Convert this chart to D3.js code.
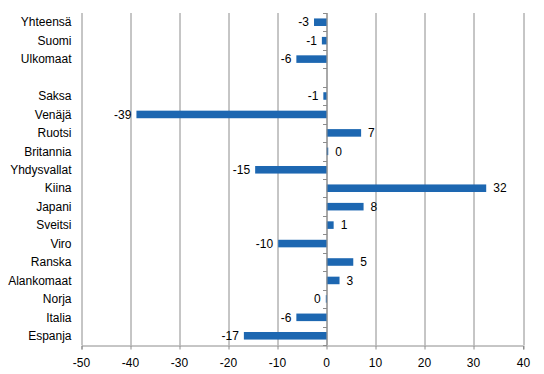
<!DOCTYPE html>
<html>
<head>
<meta charset="utf-8">
<title>Muutos</title>
<style>
    body { margin: 0; background: #fff; }
    svg text { font-family: "Liberation Sans", Arial, sans-serif; font-size: 12px; fill: #000; }
</style>
</head>
<body>
<svg id="chart"></svg>
<script src="https://d3js.org/d3.v7.min.js"></script>
<script>

    // categories, top to bottom ("" is the gap row)
    const categories = ["Yhteensä", "Suomi", "Ulkomaat", "", "Saksa", "Venäjä", "Ruotsi", "Britannia",
        "Yhdysvallat", "Kiina", "Japani", "Sveitsi", "Viro", "Ranska", "Alankomaat", "Norja", "Italia", "Espanja"];
    // bar lengths
    const values = [-2.6, -1.0, -6.2, null, -0.7, -38.8, 7.0, 0.3,
        -14.6, 32.5, 7.5, 1.4, -9.9, 5.4, 2.6, -0.2, -6.2, -16.9];
    // printed labels
    const labels = ["-3", "-1", "-6", "", "-1", "-39", "7", "0",
        "-15", "32", "8", "1", "-10", "5", "3", "0", "-6", "-17"];
    const xTicks = [-50, -40, -30, -20, -10, 0, 10, 20, 30, 40];

    const svgWidth = 544, svgHeight = 374;
    const margin = {top: 13, right: 21, bottom: 29, left: 81.5};
    const width = svgWidth - margin.left - margin.right;
    const height = svgHeight - margin.top - margin.bottom;

    const svg = d3.select("#chart")
        .attr("width", svgWidth)
        .attr("height", svgHeight);

    const g = svg.append("g")
        .attr("transform", "translate(" + margin.left + "," + margin.top + ")");

    const rows = categories.map(function(c, i) {
        return {key: i, name: c, value: values[i], label: labels[i]};
    });

    const x = d3.scaleLinear().domain([-50, 40]).range([0, width]);
    const y = d3.scaleBand().domain(rows.map(function(d) { return d.key; }))
        .range([0, height]).paddingInner(0.59).paddingOuter(0.295);

    // vertical grid lines
    g.append("g")
        .selectAll("line")
        .data(xTicks)
        .enter().append("line")
        .attr("x1", function(d) { return Math.round(x(d)) + 0.5; })
        .attr("x2", function(d) { return Math.round(x(d)) + 0.5; })
        .attr("y1", 0)
        .attr("y2", height)
        .attr("stroke", "#8c8c8c")
        .attr("stroke-width", 1);

    // bottom axis
    const xAxis = g.append("g")
        .attr("transform", "translate(0," + (height + 0.5) + ")")
        .call(d3.axisBottom(x).tickValues(xTicks).tickSize(4).tickPadding(9)
            .tickFormat(function(d) { return String(d); }));
    xAxis.select(".domain").attr("stroke", "#8c8c8c");
    xAxis.selectAll(".tick line").attr("stroke", "#8c8c8c")
        .attr("transform", "translate(0.5,0)");
    xAxis.selectAll("text")
        .style("font-family", "'Liberation Sans', Arial, sans-serif")
        .style("font-size", "12px")
        .attr("fill", "#000");
    xAxis.selectAll(".tick").attr("transform", function(d) {
        return "translate(" + Math.round(x(d)) + ",0)";
    });

    // category labels
    g.append("g")
        .selectAll("text")
        .data(rows)
        .enter().append("text")
        .attr("x", -10)
        .attr("y", function(d) { return y(d.key) + y.bandwidth() / 2; })
        .attr("dy", "0.35em")
        .attr("text-anchor", "end")
        .text(function(d) { return d.name; });

    // bars
    const bars = rows.filter(function(d) { return d.value !== null; });
    g.append("g")
        .selectAll("rect")
        .data(bars)
        .enter().append("rect")
        .attr("x", function(d) { return x(Math.min(0, d.value)); })
        .attr("y", function(d) { return y(d.key); })
        .attr("width", function(d) { return Math.max(1, Math.abs(x(d.value) - x(0))); })
        .attr("height", y.bandwidth())
        .attr("fill", "#1d67b1");

    // zero axis with small ticks on the left
    const x0 = Math.round(x(0)) + 0.5;
    g.append("line")
        .attr("x1", x0).attr("x2", x0)
        .attr("y1", 0).attr("y2", height)
        .attr("stroke", "#8c8c8c");
    g.append("g")
        .selectAll("line")
        .data(d3.range(categories.length + 1))
        .enter().append("line")
        .attr("x1", x0 - 4).attr("x2", x0)
        .attr("y1", function(i) { return Math.round(i * height / categories.length) + 0.5; })
        .attr("y2", function(i) { return Math.round(i * height / categories.length) + 0.5; })
        .attr("stroke", "#8c8c8c");

    // value labels
    g.append("g")
        .selectAll("text")
        .data(bars)
        .enter().append("text")
        .attr("x", function(d) { return d.value < 0 ? x(d.value) - 5 : x(d.value) + 7; })
        .attr("y", function(d) { return y(d.key) + y.bandwidth() / 2; })
        .attr("dy", "0.35em")
        .attr("text-anchor", function(d) { return d.value < 0 ? "end" : "start"; })
        .text(function(d) { return d.label; });

</script>
</body>
</html>
